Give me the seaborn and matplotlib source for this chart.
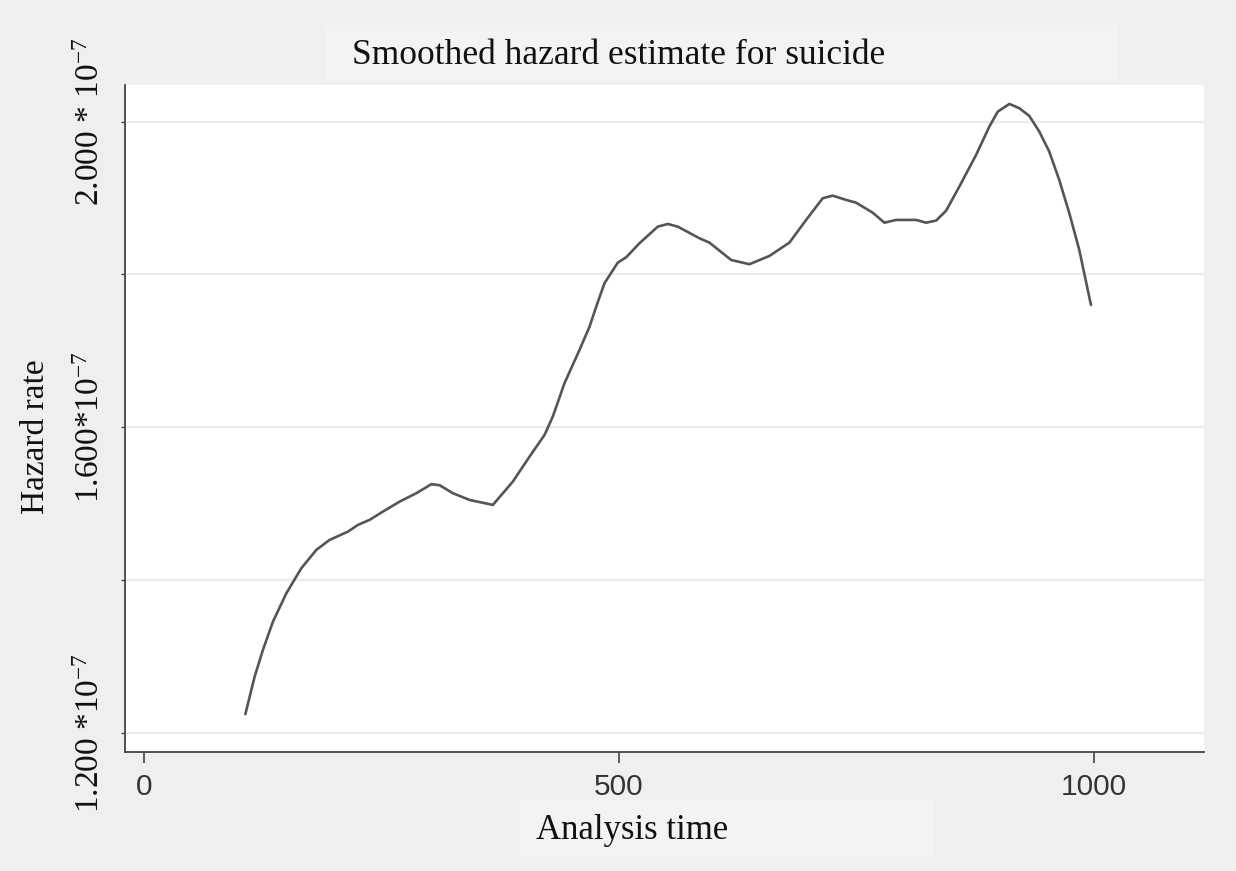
import matplotlib
matplotlib.use("Agg")
import matplotlib.pyplot as plt
import matplotlib.patches as mpatches
import numpy as np
import pandas as pd
import seaborn as sns

# Smoothed hazard estimate (hazard in units of 1e-7)
analysis_time = [106.7, 116.5, 125.2, 135.8, 149.9, 165.6, 181.4, 195.4, 214.7, 225.2,
                 237.5, 251.5, 269.1, 286.7, 302.5, 311.2, 325.2, 342.8, 367.3, 388.3,
                 405.9, 421.7, 430.4, 442.7, 458.5, 469.1, 476.1, 484.8, 498.8, 507.7,
                 521.7, 540.9, 551.5, 562.0, 584.8, 595.3, 618.2, 637.4, 658.5, 679.5,
                 697.1, 714.6, 725.1, 739.2, 749.7, 767.2, 779.5, 791.8, 812.9, 823.4,
                 833.9, 844.5, 858.4, 876.0, 890.0, 898.8, 911.1, 921.6, 932.1, 942.6,
                 953.1, 963.6, 974.2, 984.7, 997.0]
hazard_1e7 = [1.2245, 1.2737, 1.3086, 1.3457, 1.3828, 1.4155, 1.4395, 1.4526, 1.4634, 1.4722,
              1.4788, 1.4896, 1.5027, 1.5137, 1.5255, 1.5242, 1.5137, 1.5049, 1.4984, 1.5289,
              1.5616, 1.5900, 1.6140, 1.6577, 1.7012, 1.7318, 1.7579, 1.7885, 1.8155, 1.8226,
              1.8409, 1.8626, 1.8661, 1.8626, 1.8474, 1.8417, 1.8190, 1.8134, 1.8243, 1.8417,
              1.8714, 1.8998, 1.9032, 1.8976, 1.8940, 1.8809, 1.8678, 1.8714, 1.8714, 1.8678,
              1.8705, 1.8835, 1.9150, 1.9564, 1.9935, 2.0131, 2.0232, 2.0176, 2.0075, 1.9870,
              1.9608, 1.9237, 1.8802, 1.8321, 1.7601]

x_ticks = [0, 500, 1000]
x_tick_labels = ["0", "500", "1000"]
y_grid = [1.2, 1.4, 1.6, 1.8, 2.0]
y_label_ticks = [1.2, 1.6, 2.0]
y_tick_labels = ["1.200 *10$^{\\mathrm{-}7}$", "1.600*10$^{\\mathrm{-}7}$", "2.000 * 10$^{\\mathrm{-}7}$"]

sns.set_theme(style="white")
plt.rcParams["font.family"] = ["Liberation Serif", "DejaVu Serif"]
plt.rcParams["mathtext.fontset"] = "custom"
plt.rcParams["mathtext.rm"] = "Liberation Serif"
plt.rcParams["mathtext.it"] = "Liberation Serif:italic"

bg = "#efefef"
fig = plt.figure(figsize=(12.36, 8.71), dpi=100, facecolor=bg)

# light panels behind the title and the x-axis title
W, H = 1236, 871
for (x0, y0, x1, y1) in [(325, 25, 1118, 82), (520, 800, 935, 856)]:
    fig.patches.append(mpatches.Rectangle((x0 / W, 1 - y1 / H), (x1 - x0) / W, (y1 - y0) / H,
                                          transform=fig.transFigure, facecolor="#f3f3f3",
                                          edgecolor="none", zorder=-10))

ax = fig.add_axes([125 / W, 1 - 752 / H, (1204 - 125) / W, (752 - 85) / H])
ax.set_facecolor("white")

df = pd.DataFrame({"time": analysis_time, "hazard": hazard_1e7})
sns.lineplot(data=df, x="time", y="hazard", ax=ax, color="#555555", linewidth=1.9)

ax.set_xlim(-20, 1116)
ax.set_ylim(1.175, 2.048)

# horizontal grid
for g in y_grid:
    ax.axhline(g, color="#ececec", linewidth=1.6, zorder=0)

ax.set_yticks(y_grid)
ax.set_yticklabels(["" if v not in y_label_ticks else y_tick_labels[y_label_ticks.index(v)]
                    for v in y_grid], rotation=90, va="center", fontsize=24, color="#111111")
ax.tick_params(axis="y", direction="out", length=3, width=1.0, color="#444444", pad=11, left=True)

ax.set_xticks(x_ticks)
ax.set_xticklabels(x_tick_labels, fontsize=21.5, color="#333333", family="Liberation Sans")
ax.tick_params(axis="x", direction="out", length=8, width=1.2, color="#444444", pad=7, bottom=True)

for side in ["top", "right"]:
    ax.spines[side].set_visible(False)
for side in ["left", "bottom"]:
    ax.spines[side].set_color("#444444")
    ax.spines[side].set_linewidth(1.3)

ax.set_xlabel("Analysis time", fontsize=25, color="#111111")
ax.xaxis.set_label_coords(0.47, -0.117)
ax.set_ylabel("Hazard rate", fontsize=24, color="#111111")
ax.yaxis.set_label_coords(-0.083, 0.472)
ax.xaxis.label.set_va("center")
ax.yaxis.label.set_va("center")

fig.text((618.5) / W, 1 - 55 / H, "Smoothed hazard estimate for suicide",
         ha="center", va="center", fontsize=25.5, color="#111111")

fig.savefig("out.png", dpi=100, facecolor=bg)
